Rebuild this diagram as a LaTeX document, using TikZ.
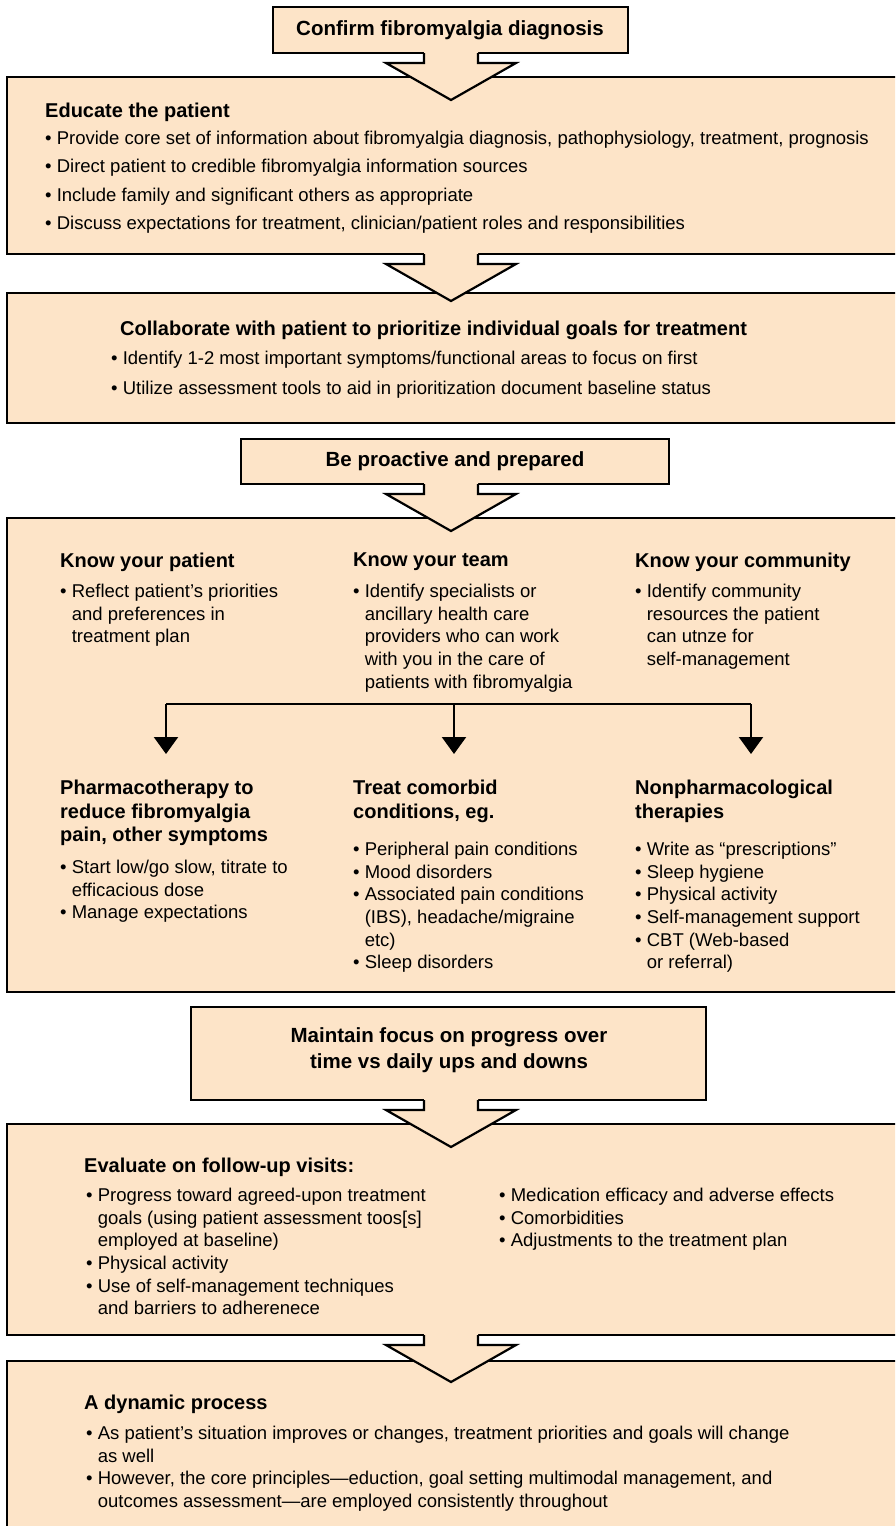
\documentclass[tikz,border=0pt]{standalone}
\usepackage{fontspec}
\setmainfont{Liberation Sans}
\usetikzlibrary{positioning, arrows.meta}

\definecolor{peach}{HTML}{FDE4C8}

\newcommand{\bul}{\textbullet\ }
\newcommand{\ind}{\phantom{\textbullet}\ }

\begin{document}
\begin{tikzpicture}[x=1pt, y=-1pt, >={Triangle[width=24pt, length=17pt]},
    panel/.style={draw=black, line width=2.2pt, fill=peach},
    title/.style={font=\fontsize{20.5}{26}\selectfont\bfseries, align=center, inner sep=0pt},
    head/.style={font=\fontsize{20}{23.5}\selectfont\bfseries, align=left, anchor=north west, inner sep=0pt},
    body/.style={font=\fontsize{18.5}{22.6}\selectfont, align=left, anchor=north west, inner sep=0pt},
    widelist/.style={body, font=\fontsize{18.5}{28.3}\selectfont}]

    \useasboundingbox (0,0) rectangle (895,1526);
    \fill[white] (0,0) rectangle (895,1526);
    \clip (0,0) rectangle (895,1526);

    % panels
    \draw[panel] (7,77) rectangle (915,254);
    \draw[panel] (7,293) rectangle (915,423);
    \draw[panel] (7,518) rectangle (915,992);
    \draw[panel] (7,1124) rectangle (915,1335);
    \draw[panel] (7,1361) rectangle (915,1545);

    % title boxes
    \draw[panel] (273,7) rectangle (628,53);
    \draw[panel] (241,439) rectangle (669,484);
    \draw[panel] (191,1007) rectangle (706,1100);

    % block arrows
    \foreach \y in {53,254,484,1100,1335} {
        \fill[peach] (424,\y-2) -- (424,\y+10) -- (386,\y+10) -- (451,\y+47)
            -- (516,\y+10) -- (478,\y+10) -- (478,\y-2) -- cycle;
        \draw[line width=2.2pt, line join=miter] (424,\y) -- (424,\y+10) -- (386,\y+10)
            -- (451,\y+47) -- (516,\y+10) -- (478,\y+10) -- (478,\y);
    }

    \node[title] (confirm) at (450,30) {Confirm fibromyalgia diagnosis};
    \node[title] (proactive) at (455,461) {Be proactive and prepared};
    \node[title] (maintain) at (449,1050) {Maintain focus on progress over\\time vs daily ups and downs};

    % educate
    \node[head] (educate) at (45,103) {Educate the patient};
    \node[widelist] (educatelist) at (45,131) {\bul Provide core set of information about fibromyalgia diagnosis, pathophysiology, treatment, prognosis\\
        \bul Direct patient to credible fibromyalgia information sources\\
        \bul Include family and significant others as appropriate\\
        \bul Discuss expectations for treatment, clinician/patient roles and responsibilities};

    % goals
    \node[head] (goals) at (120,321) {Collaborate with patient to prioritize individual goals for treatment};
    \node[body, font=\fontsize{18.5}{30}\selectfont] (goalslist) at (111,351) {\bul Identify 1-2 most important symptoms/functional areas to focus on first\\
        \bul Utilize assessment tools to aid in prioritization document baseline status};

    % know your ...
    \node[head] (patient) at (60,553) {Know your patient};
    \node[head] (team) at (353,553) {Know your team};
    \node[head] (community) at (635,553) {Know your community};
    \node[body] (patientlist) at (60,584) {\bul Reflect patient's priorities\\\ind and preferences in\\\ind treatment plan};
    \node[body] (teamlist) at (353,584) {\bul Identify specialists or\\\ind ancillary health care\\\ind providers who can work\\\ind with you in the care of\\\ind patients with fibromyalgia};
    \node[body] (communitylist) at (635,584) {\bul Identify community\\\ind resources the patient\\\ind can utnze for\\\ind self-management};

    % fork
    \coordinate (forkL) at (166,704);
    \coordinate (forkM) at (454,704);
    \coordinate (forkR) at (751,704);
    \coordinate (tipL) at (166,754);
    \coordinate (tipM) at (454,754);
    \coordinate (tipR) at (751,754);
    \draw[line width=2.2pt] (forkL) -- (forkR);
    \foreach \k in {L,M,R}
        \draw[->, line width=2.2pt] (fork\k) -- (tip\k);

    % three tracks
    \node[head] (pharma) at (60,780) {Pharmacotherapy to\\reduce fibromyalgia\\pain, other symptoms};
    \node[head] (comorbid) at (353,780) {Treat comorbid\\conditions, eg.};
    \node[head] (nonpharma) at (635,780) {Nonpharmacological\\therapies};
    \node[body] (pharmalist) at (60,860) {\bul Start low/go slow, titrate to\\\ind efficacious dose\\\bul Manage expectations};
    \node[body] (comorbidlist) at (353,842) {\bul Peripheral pain conditions\\\bul Mood disorders\\\bul Associated pain conditions\\\ind (IBS), headache/migraine\\\ind etc)\\\bul Sleep disorders};
    \node[body] (nonpharmalist) at (635,842) {\bul Write as “prescriptions”\\\bul Sleep hygiene\\\bul Physical activity\\\bul Self-management support\\\bul CBT (Web-based\\\ind or referral)};

    % follow-up
    \node[head] (evaluate) at (84,1158) {Evaluate on follow-up visits:};
    \node[body] (evallistA) at (86,1188) {\bul Progress toward agreed-upon treatment\\\ind goals (using patient assessment toos[s]\\\ind employed at baseline)\\\bul Physical activity\\\bul Use of self-management techniques\\\ind and barriers to adherenece};
    \node[body] (evallistB) at (499,1188) {\bul Medication efficacy and adverse effects\\\bul Comorbidities\\\bul Adjustments to the treatment plan};

    % dynamic
    \node[head] (dynamic) at (84,1395) {A dynamic process};
    \node[body] (dynamiclist) at (86,1426) {\bul As patient's situation improves or changes, treatment priorities and goals will change\\\ind as well\\\bul However, the core principles---eduction, goal setting multimodal management, and\\\ind outcomes assessment---are employed consistently throughout};

\end{tikzpicture}
\end{document}
